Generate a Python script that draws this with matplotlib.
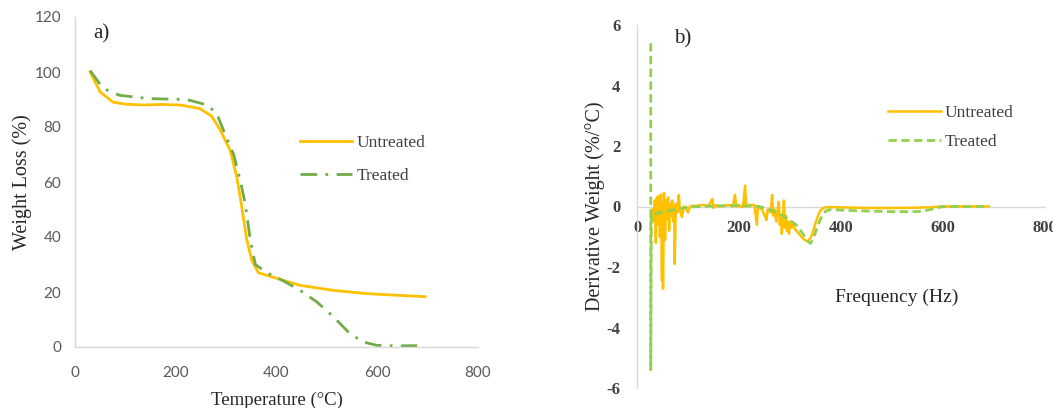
import matplotlib
matplotlib.use("Agg")
import matplotlib.pyplot as plt

plt.rcParams["axes.unicode_minus"] = False

# ---- Panel a) TGA data ----
temp_untreated = [30, 50, 76, 100, 136, 170, 209, 248, 271, 288, 308, 321, 331, 341, 351, 364, 400, 447, 513, 580, 640, 695]
wl_untreated = [100, 92.7, 89, 88.3, 88, 88.2, 88, 86.7, 84, 79, 71.5, 62, 51, 39, 31.5, 27, 25, 22.4, 20.6, 19.4, 18.8, 18.3]

temp_treated = [30, 56, 89, 149, 222, 262, 281, 301, 315, 328, 338, 348, 358, 381, 414, 447, 480, 513, 546, 573, 599, 640, 679]
wl_treated = [100.5, 94, 91.5, 90.3, 90, 88, 85, 76, 70, 60.6, 52, 39, 30, 27, 24, 20.6, 16.4, 11, 4.8, 1.8, 0.6, 0.4, 0.5]

# ---- Panel b) DTG data ----
freq_untreated = [30, 33, 35, 37, 39, 41, 43, 45, 47, 49, 50, 51, 53, 55, 57, 59, 61, 63, 65, 67, 69, 71, 73, 74, 76,
                  79, 82, 84, 88, 92, 96, 100, 104, 110, 120, 130, 140, 148, 150, 155, 160, 170, 180, 188, 192, 195,
                  200, 205, 208, 212, 214, 220, 230, 235, 237, 245, 254, 256, 262, 265, 267, 270, 273, 275, 278, 280,
                  282, 284, 286, 288, 290, 292, 294, 296, 298, 300, 303, 306, 310, 315, 320, 325, 330, 335, 340, 345,
                  350, 355, 360, 368, 380, 400, 450, 500, 550, 580, 600, 650, 690]
dtg_untreated = [-0.1, -0.5, 0.2, -1.2, 0.3, -0.6, 0.35, -1.0, 0.4, -2.45, 0.1, -2.72, 0.45, -1.1, 0.2, -0.4, 0.3, -0.8,
                 0.1, -0.3, 0.2, -0.5, 0.0, -1.9, 0.1, -0.2, 0.38, -0.1, -0.35, 0.0, -0.05, -0.2, 0.0, 0.02, 0.03,
                 0.05, 0.02, 0.25, -0.05, 0.05, 0.0, 0.02, 0.05, 0.0, 0.38, 0.0, 0.05, -0.02, 0.0, 0.69, 0.0, 0.05,
                 0.05, -0.6, 0.0, -0.1, -0.45, -0.1, -0.2, 0.38, -0.3, -0.1, -0.5, -0.2, 0.15, -0.6, -0.3, -0.9, -0.4,
                 0.2, -0.7, -0.3, -0.8, -0.5, -0.9, -0.5, -0.7, -0.6, -0.75, -0.85, -0.95, -1.05, -1.12, -1.15, -1.05,
                 -0.85, -0.55, -0.3, -0.12, -0.03, -0.02, -0.03, -0.05, -0.05, -0.04, -0.02, 0.0, 0.0, 0.0]

freq_treated = [27, 27, 28, 40, 60, 80, 100, 150, 200, 240, 260, 280, 300, 315, 325, 335, 340, 345, 352, 360, 370, 380,
                400, 450, 500, 550, 570, 600, 650, 690]
dtg_treated = [5.4, -5.4, -0.25, -0.22, -0.15, -0.08, -0.02, 0.02, 0.03, 0.0, -0.1, -0.25, -0.45, -0.65, -0.9, -1.15,
               -1.22, -1.1, -0.75, -0.4, -0.15, -0.1, -0.12, -0.15, -0.17, -0.17, -0.12, 0.0, 0.0, 0.0]

x_ticks = [0, 200, 400, 600, 800]
a_yticks = [0, 20, 40, 60, 80, 100, 120]
b_yticks = [-6, -4, -2, 0, 2, 4, 6]

ORANGE = "#FFC000"
GREEN_A = "#70AD47"
GREEN_B = "#92D050"
AXIS = "#D9D9D9"
TICKC = "#595959"
SERIF = "Liberation Serif"

fig = plt.figure(figsize=(10.53, 4.08), dpi=100)

# ---------------- panel a ----------------
ax1 = fig.add_axes([75 / 1053, 61 / 408, 403 / 1053, 330 / 408])
ax1.plot(temp_untreated, wl_untreated, color=ORANGE, lw=2.0, label="Untreated")
ax1.plot(temp_treated, wl_treated, color=GREEN_A, lw=2.0, ls=(0, (6, 3, 1, 3)), label="Treated")
ax1.set_xlim(0, 800)
ax1.set_ylim(0, 120)
ax1.set_xticks(x_ticks)
ax1.set_yticks(a_yticks)
for s in ["top", "right"]:
    ax1.spines[s].set_visible(False)
for s in ["left", "bottom"]:
    ax1.spines[s].set_color(AXIS)
    ax1.spines[s].set_linewidth(1.0)
ax1.tick_params(length=0, labelsize=11, colors=TICKC)
ax1.tick_params(axis="x", pad=14)
ax1.tick_params(axis="y", pad=10)
for lab in ax1.get_xticklabels() + ax1.get_yticklabels():
    lab.set_fontfamily("Lato")
ax1.set_xlabel("Temperature (°C)", fontfamily=SERIF, fontsize=13.5, color="#262626", labelpad=8)
ax1.set_ylabel("Weight Loss (%)", fontfamily=SERIF, fontsize=14.5, color="#262626", labelpad=2)
ax1.text(0.045, 0.95, "a)", transform=ax1.transAxes, fontfamily=SERIF, fontsize=15, color="#262626",
         va="center", ha="left")
leg1 = ax1.legend(loc="upper left", bbox_to_anchor=(0.52, 0.69), frameon=False, handlelength=3.0,
                  handletextpad=0.25, labelspacing=0.95, prop={"family": SERIF, "size": 12.5})
for t in leg1.get_texts():
    t.set_color("#404040")

# ---------------- panel b ----------------
ax2 = fig.add_axes([637 / 1053, 20 / 408, 408 / 1053, 363 / 408])
ax2.plot(freq_untreated, dtg_untreated, color=ORANGE, lw=1.8, label="Untreated")
ax2.plot(freq_treated, dtg_treated, color=GREEN_B, lw=2.0, ls=(0, (3, 1.6)), label="Treated")
ax2.set_xlim(0, 800)
ax2.set_ylim(-6, 6)
ax2.set_xticks(x_ticks)
ax2.set_yticks(b_yticks)
for s in ["top", "right"]:
    ax2.spines[s].set_visible(False)
ax2.spines["bottom"].set_position(("data", 0))
for s in ["left", "bottom"]:
    ax2.spines[s].set_color(AXIS)
    ax2.spines[s].set_linewidth(1.0)
ax2.spines["bottom"].set_zorder(0.5)
ax2.tick_params(length=0, labelsize=12, colors="#404040")
ax2.tick_params(axis="x", pad=10)
ax2.tick_params(axis="y", pad=12)
for lab in ax2.get_xticklabels() + ax2.get_yticklabels():
    lab.set_fontfamily(SERIF)
    lab.set_fontweight("bold")
ax2.set_ylabel("Derivative Weight (%/°C)", fontfamily=SERIF, fontsize=14.5, color="#262626", labelpad=1)
ax2.text(0.637, 0.25, "Frequency (Hz)", transform=ax2.transAxes, fontfamily=SERIF, fontsize=14,
         color="#262626", ha="center", va="center")
ax2.text(0.09, 0.962, "b)", transform=ax2.transAxes, fontfamily=SERIF, fontsize=15, color="#262626",
         va="center", ha="left")
leg2 = ax2.legend(loc="upper left", bbox_to_anchor=(0.578, 0.823), frameon=False, handlelength=3.0,
                  handletextpad=0.25, labelspacing=0.75, prop={"family": SERIF, "size": 12.5})
for t in leg2.get_texts():
    t.set_color("#404040")

fig.savefig("out.png", dpi=100)
